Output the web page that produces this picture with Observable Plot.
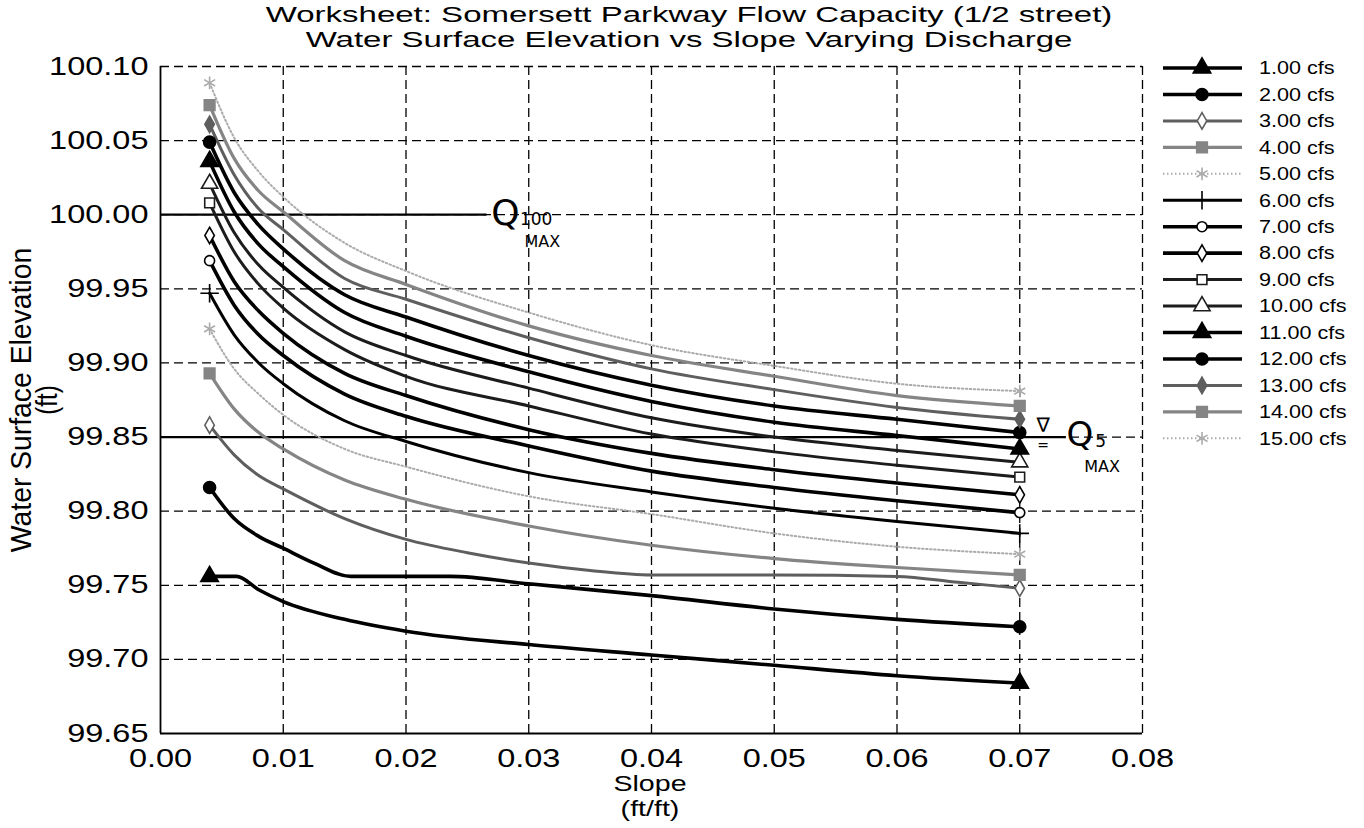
<!DOCTYPE html>
<html><head><meta charset="utf-8">
<script src="https://cdn.jsdelivr.net/npm/d3@7"></script>
<script src="https://cdn.jsdelivr.net/npm/@observablehq/plot@0.6"></script>
<style>
body{margin:0;background:#fff;font-family:"Liberation Sans",Arial,sans-serif;}
#wrap{position:relative;width:1364px;height:828px;overflow:hidden;background:#fff;}
.t{position:absolute;white-space:nowrap;color:#000;line-height:1;}
</style></head><body><div id="wrap"></div>
<script>
// ---------- data ----------
const titleLines = ["Worksheet: Somersett Parkway Flow Capacity (1/2 street)", "Water Surface Elevation vs Slope Varying Discharge"];
const xLabelLines = ["Slope", "(ft/ft)"];
const yLabelLines = ["Water Surface Elevation", "(ft)"];
const xTicks = [0.00, 0.01, 0.02, 0.03, 0.04, 0.05, 0.06, 0.07, 0.08];
const yTicks = [99.65, 99.70, 99.75, 99.80, 99.85, 99.90, 99.95, 100.00, 100.05, 100.10];
const discharges = ["1.00 cfs","2.00 cfs","3.00 cfs","4.00 cfs","5.00 cfs","6.00 cfs","7.00 cfs","8.00 cfs","9.00 cfs","10.00 cfs","11.00 cfs","12.00 cfs","13.00 cfs","14.00 cfs","15.00 cfs"];

const slopeStd = [0.004,0.006,0.008,0.010,0.015,0.020,0.030,0.040,0.050,0.060,0.070];
const slope1 = [0.004,0.0062,0.008,0.010,0.015,0.020,0.030,0.040,0.050,0.060,0.070];
const slope2 = [0.004,0.006,0.008,0.010,0.0125,0.0155,0.0236,0.030,0.040,0.050,0.060,0.070];
const slope3 = [0.004,0.006,0.008,0.010,0.015,0.020,0.025,0.030,0.035,0.040,0.050,0.060,0.065,0.070];

const wse1  = [99.756,99.756,99.747,99.739,99.727,99.719,99.710,99.703,99.696,99.689,99.684];
const wse2  = [99.816,99.795,99.783,99.775,99.765,99.756,99.756,99.751,99.743,99.734,99.727,99.722];
const wse3  = [99.858,99.838,99.824,99.815,99.795,99.781,99.772,99.765,99.760,99.757,99.757,99.756,99.752,99.748];
const wse4  = [99.893,99.869,99.853,99.842,99.821,99.808,99.790,99.777,99.768,99.762,99.757];
const wse5  = [99.923,99.896,99.879,99.865,99.842,99.830,99.810,99.798,99.785,99.776,99.771];
const wse6  = [99.947,99.919,99.900,99.886,99.861,99.847,99.826,99.813,99.802,99.793,99.785];
const wse7  = [99.969,99.939,99.919,99.905,99.879,99.864,99.844,99.827,99.816,99.807,99.799];
const wse8  = [99.986,99.955,99.935,99.920,99.893,99.878,99.855,99.839,99.828,99.819,99.811];
const wse9  = [100.008,99.975,99.953,99.937,99.909,99.891,99.871,99.852,99.840,99.831,99.823];
const wse10 = [100.021,99.988,99.966,99.951,99.921,99.905,99.883,99.863,99.850,99.841,99.833];
const wse11 = [100.036,100.002,99.980,99.965,99.934,99.918,99.894,99.874,99.860,99.851,99.842];
const wse12 = [100.049,100.015,99.993,99.977,99.946,99.931,99.905,99.885,99.871,99.862,99.853];
const wse13 = [100.061,100.027,100.004,99.990,99.957,99.943,99.917,99.896,99.882,99.870,99.862];
const wse14 = [100.074,100.038,100.016,100.002,99.969,99.953,99.925,99.905,99.891,99.878,99.871];
const wse15 = [100.089,100.052,100.029,100.012,99.981,99.962,99.934,99.912,99.898,99.886,99.881];

const seriesSlopes = [slope1, slope2, slope3, slopeStd, slopeStd, slopeStd, slopeStd, slopeStd, slopeStd, slopeStd, slopeStd, slopeStd, slopeStd, slopeStd, slopeStd];
const seriesWse = [wse1, wse2, wse3, wse4, wse5, wse6, wse7, wse8, wse9, wse10, wse11, wse12, wse13, wse14, wse15];

// reference (design) levels, hand-drawn on the sheet
const refLevels = [{label:"Q100", y:100.00, x1:0.0, x2:0.0266}, {label:"Q5", y:99.85, x1:0.0, x2:0.0738}];
const annotations = [
  {text:"Q",   x:0.0281, y:100.001, size:36},
  {text:"100", x:0.0306, y:99.997,  size:17},
  {text:"MAX", x:0.0311, y:99.982,  size:16},
  {text:"∇",   x:0.0719, y:99.858,  size:20},
  {text:"=",   x:0.0719, y:99.844,  size:14},
  {text:"Q",   x:0.0749, y:99.851,  size:34},
  {text:"5",   x:0.0766, y:99.847,  size:17},
  {text:"MAX", x:0.0767, y:99.830,  size:16}
];

// ---------- styles ----------
const BLACK = "#000", DARK = "#1c1c1c", GRAY1 = "#5e5e5e", GRAY2 = "#858585", LIGHT = "#ababab";
const styles = [
  {stroke:BLACK, w:3.6, dash:null,    symbol:"triangle", fill:BLACK, mstroke:BLACK, r:6.5},
  {stroke:BLACK, w:3.6, dash:null,    symbol:"circle",   fill:BLACK, mstroke:BLACK, r:6},
  {stroke:GRAY1, w:3.0, dash:null,    symbol:"diamond",  fill:"#fff", mstroke:GRAY1, r:5},
  {stroke:GRAY2, w:3.2, dash:null,    symbol:"square",   fill:GRAY2, mstroke:GRAY2, r:6},
  {stroke:LIGHT, w:2.0, dash:"1.5,2.5", symbol:"asterisk", fill:"none", mstroke:LIGHT, r:6},
  {stroke:BLACK, w:3.0, dash:null,    symbol:"plus",     fill:"none", mstroke:BLACK, r:6},
  {stroke:BLACK, w:3.6, dash:null,    symbol:"circle",   fill:"#fff", mstroke:BLACK, r:5},
  {stroke:BLACK, w:3.6, dash:null,    symbol:"diamond",  fill:"#fff", mstroke:BLACK, r:5},
  {stroke:DARK,  w:3.0, dash:null,    symbol:"square",   fill:"#fff", mstroke:DARK,  r:5.5},
  {stroke:DARK,  w:3.0, dash:null,    symbol:"triangle", fill:"#fff", mstroke:DARK,  r:6},
  {stroke:BLACK, w:3.6, dash:null,    symbol:"triangle", fill:BLACK, mstroke:BLACK, r:6.5},
  {stroke:BLACK, w:3.6, dash:null,    symbol:"circle",   fill:BLACK, mstroke:BLACK, r:6},
  {stroke:GRAY1, w:3.0, dash:null,    symbol:"diamond",  fill:GRAY1, mstroke:GRAY1, r:5},
  {stroke:GRAY2, w:3.2, dash:null,    symbol:"square",   fill:GRAY2, mstroke:GRAY2, r:6},
  {stroke:LIGHT, w:2.0, dash:"1.5,2.5", symbol:"asterisk", fill:"none", mstroke:LIGHT, r:6}
];

// ---------- build ----------
const rows = discharges.map((name, k) => seriesSlopes[k].map((s, i) => ({name, slope: s, wse: seriesWse[k][i]})));
const FONT = "Liberation Sans, Arial, Helvetica, sans-serif";
const gridStyle = {stroke:"#000", strokeOpacity:1, strokeWidth:1.3, strokeDasharray:"9,5"};

const lineMarks = [], dotMarks = [];
rows.forEach((r, k) => {
  const st = styles[k];
  lineMarks.push(Plot.line(r, {x:"slope", y:"wse", stroke:st.stroke, strokeWidth:st.w, strokeDasharray:st.dash || undefined, curve:"monotone-x", strokeLinejoin:"round"}));
  dotMarks.push(Plot.dot([r[0], r[r.length-1]], {x:"slope", y:"wse", symbol:st.symbol, r:st.r, fill:st.fill, stroke:st.mstroke, strokeWidth:1.6}));
});

const svg = Plot.plot({
  width: 1180, height: 828,
  marginLeft: 160, marginRight: 38, marginTop: 66, marginBottom: 95,
  style: {fontFamily: FONT, fontSize: "25px", color: "#000", background: "transparent", overflow: "visible"},
  x: {domain: [0, 0.08]},
  y: {domain: [99.65, 100.10]},
  marks: [
    Plot.ruleX(xTicks.slice(1), {...gridStyle}),
    Plot.ruleY(yTicks.slice(1), {...gridStyle}),
    Plot.ruleX([xTicks[0]], {stroke:"#000", strokeWidth:1.8}),
    Plot.ruleY([yTicks[0]], {stroke:"#000", strokeWidth:1.8}),
    Plot.axisX(xTicks, {tickFormat: d => d.toFixed(2), tickSize: 0, tickPadding: 16, label: null, fontSize: 25}),
    Plot.axisY(yTicks, {tickFormat: d => d.toFixed(2), tickSize: 0, tickPadding: 12, label: null, fontSize: 25}),
    Plot.ruleY(refLevels, {y:"y", x1:"x1", x2:"x2", stroke:"#000", strokeWidth:2.2}),
    ...lineMarks,
    ...dotMarks,
    Plot.text(annotations, {x:"x", y:"y", text:"text", fontSize:"size", fontFamily:"DejaVu Sans, sans-serif", fill:"#000", textAnchor:"middle", lineAnchor:"middle"})
  ]
});
// scanned sheet is horizontally stretched: widen axis tick labels
d3.select(svg).selectAll("g[aria-label$='tick label'] text").each(function(){
  const t = this.getAttribute("transform");
  if (t) this.setAttribute("transform", t + " scale(1.3,1)");
});
svg.style.position = "absolute"; svg.style.left = "0px"; svg.style.top = "0px";
const wrap = document.getElementById("wrap");
wrap.appendChild(svg);

function addText(txt, cx, cy, size, tf) {
  const d = document.createElement("div");
  d.className = "t";
  d.textContent = txt;
  d.style.left = cx + "px"; d.style.top = cy + "px";
  d.style.fontSize = size + "px";
  d.style.transform = "translate(-50%,-50%) " + tf;
  wrap.appendChild(d);
}
addText(titleLines[0], 689, 15, 22, "scaleX(1.5)");
addText(titleLines[1], 689, 40, 22, "scaleX(1.5)");
addText(xLabelLines[0], 650, 784, 22, "scaleX(1.3)");
addText(xLabelLines[1], 650, 809, 22, "scaleX(1.3)");
addText(yLabelLines[0], 21, 400, 24, "rotate(-90deg) scale(1.18,1.25)");
addText(yLabelLines[1], 47, 400, 24, "rotate(-90deg) scaleY(1.25)");

// ---------- legend ----------
const lg = d3.select(wrap).append("svg")
  .attr("width", 214).attr("height", 420)
  .style("position","absolute").style("left","1150px").style("top","50px");
const symMap = {triangle:d3.symbolTriangle, circle:d3.symbolCircle, diamond:d3.symbolDiamond, square:d3.symbolSquare, asterisk:d3.symbolAsterisk, plus:d3.symbolPlus};
discharges.forEach((name, k) => {
  const st = styles[k];
  const y = 18 + k * 26.45;
  const g = lg.append("g").attr("transform", `translate(0,${y})`);
  g.append("line").attr("x1", 13).attr("x2", 92).attr("y1", 0).attr("y2", 0)
    .attr("stroke", st.stroke).attr("stroke-width", st.w).attr("stroke-dasharray", st.dash);
  g.append("path").attr("transform", "translate(52,0)")
    .attr("d", d3.symbol(symMap[st.symbol], Math.PI * st.r * st.r)())
    .attr("fill", st.fill).attr("stroke", st.mstroke).attr("stroke-width", 1.6);
  g.append("text").attr("x", 0).attr("y", 0).attr("dy", "0.35em")
    .attr("transform", "translate(109,0) scale(1.2,1)")
    .attr("font-family", FONT).attr("font-size", 18).text(name);
});
</script></body></html>
